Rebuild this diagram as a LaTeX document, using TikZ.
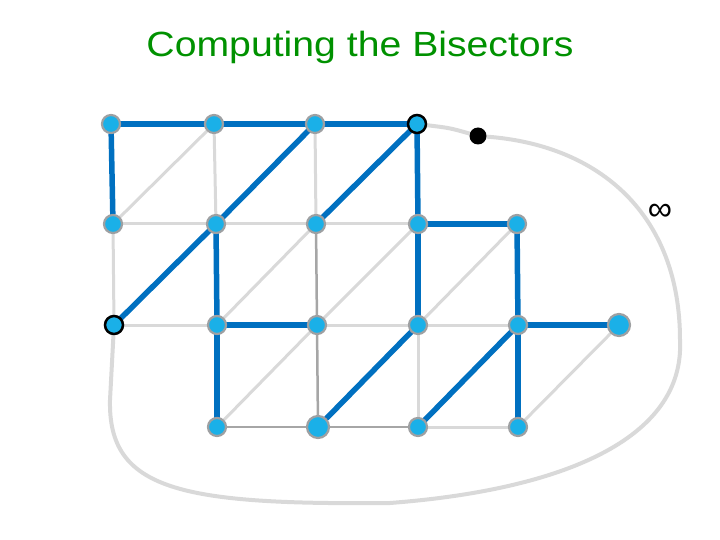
\documentclass[tikz,border=0pt]{standalone}
\usepackage{fontspec}
\setmainfont{Liberation Sans}
\usetikzlibrary{positioning,backgrounds}

\definecolor{titlegreen}{RGB}{0,145,0}
\definecolor{cellfill}{RGB}{26,176,232}
\definecolor{cellrim}{RGB}{158,160,162}
\definecolor{bisect}{RGB}{0,112,192}
\definecolor{lightgrid}{RGB}{217,217,217}
\definecolor{darkgrid}{RGB}{166,166,166}

\begin{document}
\begin{tikzpicture}[x=1pt,y=-1pt]
                    \tikzstyle{every node}=[inner sep=0]
                    \tikzstyle{site}=[circle,fill=cellfill,draw=cellrim,line width=2.2pt,minimum size=18]
                    \tikzstyle{bigsite}=[site,minimum size=22]
                    \tikzstyle{endsite}=[site,draw=black,line width=2.5pt]
                    \tikzstyle{grid}=[draw=lightgrid,line width=3pt]
                    \tikzstyle{grid2}=[draw=darkgrid,line width=2.5pt]
                    \tikzstyle{bis}=[draw=bisect,line width=5.5pt,line cap=round]
                    \tikzstyle{outline}=[draw=lightgrid,line width=4pt]
                    \useasboundingbox (0,0) rectangle (720,540);
                    {
                        \node[anchor=base,text=titlegreen,font=\fontsize{35}{40}\selectfont] (title) at (360,57) {\scalebox{1.12}[1]{Computing the Bisectors}};
                        \node[font=\fontsize{34}{40}\selectfont] (inf) at (660,212) {∞};

                        \node[site] (a1) at (111,124) {};
                        \node[site] (a2) at (214,124) {};
                        \node[site] (a3) at (315,124) {};
                        \node[endsite] (a4) at (417,124) {};
                        \node[site] (b1) at (113,224) {};
                        \node[site] (b2) at (216,224) {};
                        \node[site] (b3) at (316,224) {};
                        \node[site] (b4) at (418,224) {};
                        \node[site] (b5) at (517,224) {};
                        \node[endsite] (c1) at (114,325) {};
                        \node[site] (c2) at (217,325) {};
                        \node[site] (c3) at (317,325) {};
                        \node[site] (c4) at (418,325) {};
                        \node[site] (c5) at (518,325) {};
                        \node[bigsite] (c6) at (619,325) {};
                        \node[site] (d2) at (217,427) {};
                        \node[bigsite] (d3) at (318,427) {};
                        \node[site] (d4) at (418,427) {};
                        \node[site] (d5) at (518,427) {};
                        \node[circle,fill=black,minimum size=17] (dot) at (478,136) {};
                        \coordinate (r1) at (680,340);
                        \coordinate (r2) at (390,503);
                        \coordinate (r3) at (110,400);

                        \begin{scope}[on background layer]
                        \path[outline] (a4) .. controls (450,128) .. (dot)
                            .. controls (600,145) and (680,215) .. (r1)
                            .. controls (685,440) and (560,490) .. (r2)
                            .. controls (180,505) and (108,490) .. (r3)
                            -- (c1);

                        \path[grid]
                            (a2) edge (b1) (a2) edge (b2) (a3) edge (b3)
                            (b1) edge (b2) (b2) edge (b3) (b3) edge (b4)
                            (b1) edge (c1) (b3) edge (c2) (b4) edge (c3) (b5) edge (c4)
                            (c1) edge (c2) (c3) edge (c4) (c4) edge (c5)
                            (c3) edge (d2) (c4) edge (d4) (c6) edge (d5)
                            (d4) edge (d5);

                        \path[grid2]
                            (b3) edge (c3) (c3) edge (d3)
                            (d2) edge (d3) (d3) edge (d4);

                        \path[bis]
                            (a1) edge (a2) (a2) edge (a3) (a3) edge (a4)
                            (a1) edge (b1) (a3) edge (b2) (a4) edge (b3) (a4) edge (b4)
                            (b4) edge (b5) (b2) edge (c1) (b2) edge (c2)
                            (b4) edge (c4) (b5) edge (c5)
                            (c2) edge (c3) (c5) edge (c6)
                            (c2) edge (d2) (c4) edge (d3) (c5) edge (d4) (c5) edge (d5);
                        \end{scope}
                    }
                \end{tikzpicture}
\end{document}
